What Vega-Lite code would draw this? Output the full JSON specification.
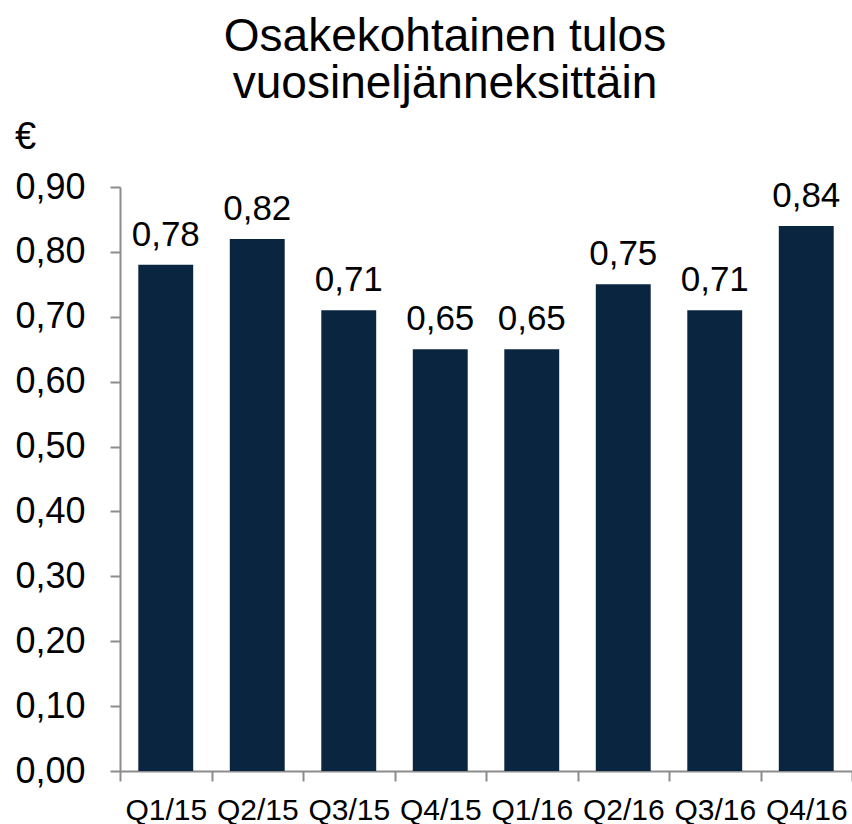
{
  "$schema": "https://vega.github.io/schema/vega-lite/v6.json",
  "autosize": {"type": "none"},
  "padding": {"left": 120, "top": 187, "right": 0, "bottom": 53},
  "width": 732,
  "height": 584,
  "background": "white",
  "title": {
    "text": ["Osakekohtainen tulos", "vuosineljänneksittäin"],
    "font": "Liberation Sans",
    "fontSize": 46,
    "fontWeight": "normal",
    "color": "#000000",
    "lineHeight": 47,
    "anchor": "middle",
    "dx": -41,
    "offset": 10
  },
  "data": {
    "values": [
      {"q": "Q1/15", "v": 0.78},
      {"q": "Q2/15", "v": 0.82},
      {"q": "Q3/15", "v": 0.71},
      {"q": "Q4/15", "v": 0.65},
      {"q": "Q1/16", "v": 0.65},
      {"q": "Q2/16", "v": 0.75},
      {"q": "Q3/16", "v": 0.71},
      {"q": "Q4/16", "v": 0.84}
    ]
  },
  "encoding": {
    "x": {
      "field": "q",
      "type": "nominal",
      "sort": null,
      "scale": {"paddingInner": 0, "paddingOuter": 0},
      "axis": {
        "title": null,
        "labelAngle": 0,
        "labelFont": "Liberation Sans",
        "labelFontSize": 30,
        "labelColor": "#000000",
        "labelPadding": 14,
        "tickBand": "extent",
        "tickSize": 10,
        "tickColor": "#8c8c8c",
        "tickWidth": 2,
        "domainColor": "#8c8c8c",
        "domainWidth": 2,
        "grid": false
      }
    },
    "y": {
      "field": "v",
      "type": "quantitative",
      "scale": {"domain": [0, 0.9], "nice": false},
      "axis": {
        "values": [0, 0.1, 0.2, 0.3, 0.4, 0.5, 0.6, 0.7, 0.8, 0.9],
        "format": ".2f",
        "title": "€",
        "titleAngle": 0,
        "titleX": -95,
        "titleY": -50,
        "titleAlign": "center",
        "titleBaseline": "middle",
        "titleFont": "Liberation Sans",
        "titleFontSize": 38,
        "titleFontWeight": "normal",
        "titleColor": "#000000",
        "labelFont": "Liberation Sans",
        "labelFontSize": 36,
        "labelColor": "#000000",
        "labelPadding": 25,
        "tickSize": 10,
        "tickColor": "#8c8c8c",
        "tickWidth": 2,
        "domainColor": "#8c8c8c",
        "domainWidth": 2,
        "grid": false
      }
    }
  },
  "layer": [
    {"mark": {"type": "bar", "color": "#0a2540", "width": {"band": 0.6}}},
    {
      "mark": {"type": "text", "font": "Liberation Sans", "fontSize": 35, "color": "#000000", "baseline": "alphabetic", "dy": -19},
      "encoding": {"text": {"field": "v", "type": "quantitative", "format": ".2f"}}
    }
  ],
  "config": {
    "view": {"stroke": null},
    "locale": {
      "number": {"decimal": ",", "thousands": " ", "grouping": [3], "currency": ["", " €"]}
    }
  }
}
